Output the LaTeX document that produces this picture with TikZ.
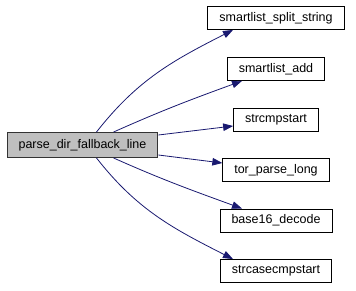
\documentclass[tikz,border=0pt]{standalone}
\usepackage{fontspec}
\setmainfont{Liberation Sans}
\usetikzlibrary{arrows.meta}
\definecolor{edgeblue}{HTML}{191970}
\definecolor{rootfill}{HTML}{BFBFBF}
\begin{document}
\begin{tikzpicture}[x=1pt,y=-1pt,
  fn/.style={draw=black,line width=0.9pt,fill=white,rectangle,
    minimum height=23pt,inner xsep=11.5pt,inner ysep=0pt,
    font=\fontsize{12.5}{14}\selectfont,anchor=center},
  root/.style={fn,fill=rootfill,draw=black!80,minimum height=25pt},
  call/.style={draw=edgeblue,line width=0.8pt,
    -{Triangle[length=10pt,width=7.5pt]}}]
\useasboundingbox (0,0) rectangle (356,291);

% caller
\node[root] (main) at (82.5,145) {parse\_dir\_fallback\_line};

% callees
\node[fn] (split)  at (276,18)    {smartlist\_split\_string};
\node[fn] (add)    at (276,69)    {smartlist\_add};
\node[fn] (cmp)    at (276,119.5) {strcmpstart};
\node[fn] (plong)  at (276,170)   {tor\_parse\_long};
\node[fn] (b16)    at (276,220.5) {base16\_decode};
\node[fn] (casecmp) at (276,271)  {strcasecmpstart};

% call edges (shifts are page dimensions: positive yshift is upward)
\draw[call] ([xshift=14pt]main.north) to[out=52,in=207] ([xshift=-43pt]split.south);
\draw[call] ([xshift=31pt]main.north) to[out=24,in=200] ([xshift=-34pt]add.south);
\draw[call] ([yshift=10pt]main.east) -- ([yshift=-6.5pt]cmp.west);
\draw[call] ([yshift=-10pt]main.east) -- ([yshift=7pt]plong.west);
\draw[call] ([xshift=31pt]main.south) to[out=-24,in=160] ([xshift=-34pt]b16.north);
\draw[call] ([xshift=14pt]main.south) to[out=-52,in=153] ([xshift=-43pt]casecmp.north);
\end{tikzpicture}
\end{document}
